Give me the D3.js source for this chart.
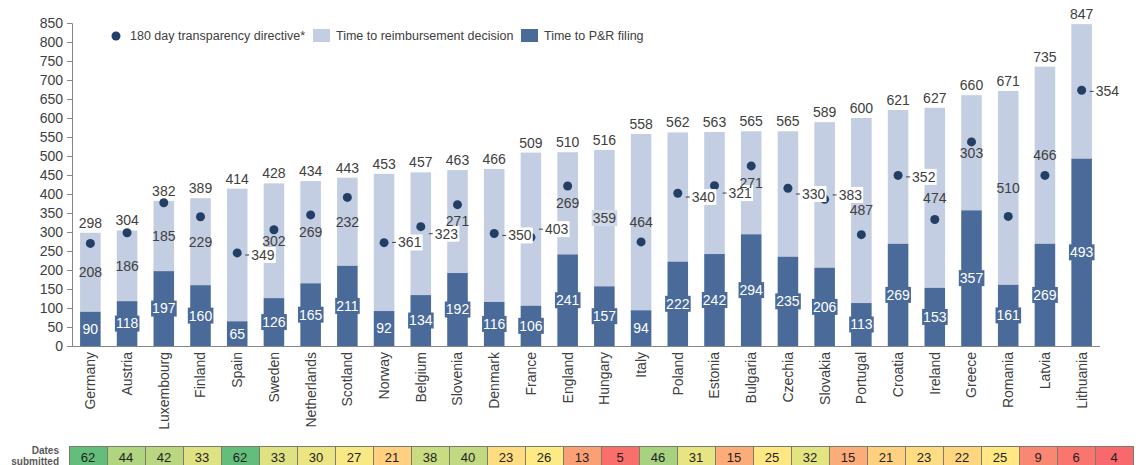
<!DOCTYPE html>
<html>
<head>
<meta charset="utf-8">
<script src="https://cdn.jsdelivr.net/npm/d3@7"></script>
<style>
  body { margin: 0; background: #fff; }
  svg { display: block; font-family: "Liberation Sans", Arial, sans-serif; }
</style>
</head>
<body>
<svg id="chart" width="1139" height="465"></svg>
<script>
// chart data
const countries = ["Germany", "Austria", "Luxembourg", "Finland", "Spain", "Sweden", "Netherlands",
  "Scotland", "Norway", "Belgium", "Slovenia", "Denmark", "France", "England", "Hungary", "Italy",
  "Poland", "Estonia", "Bulgaria", "Czechia", "Slovakia", "Portugal", "Croatia", "Ireland", "Greece",
  "Romania", "Latvia", "Lithuania"];
const pnrFiling = [90, 118, 197, 160, 65, 126, 165, 211, 92, 134, 192, 116, 106, 241, 157, 94,
  222, 242, 294, 235, 206, 113, 269, 153, 357, 161, 269, 493];
const reimbursement = [208, 186, 185, 229, 349, 302, 269, 232, 361, 323, 271, 350, 403, 269, 359, 464,
  340, 321, 271, 330, 383, 487, 352, 474, 303, 510, 466, 354];
const totals = [298, 304, 382, 389, 414, 428, 434, 443, 453, 457, 463, 466, 509, 510, 516, 558,
  562, 563, 565, 565, 589, 600, 621, 627, 660, 671, 735, 847];
const directive = [270, 298, 377, 340, 245, 306, 345, 391, 272, 314, 372, 296, 286, 421, 337, 274,
  402, 422, 474, 415, 386, 293, 449, 333, 537, 341, 449, 673];
const datesSubmitted = [62, 44, 42, 33, 62, 33, 30, 27, 21, 38, 40, 23, 26, 13, 5, 46,
  31, 15, 25, 32, 15, 21, 23, 22, 25, 9, 6, 4];
// labels shown beside the dot with a leader line
const leaderLabels = ["Spain", "Norway", "Belgium", "Denmark", "France", "Poland", "Estonia",
  "Czechia", "Slovakia", "Croatia", "Lithuania"];
const yTicks = d3.range(0, 851, 50);
const legendItems = ["180 day transparency directive*", "Time to reimbursement decision", "Time to P&R filing"];

const DARK = "#4a6a9a", LIGHT = "#c3cee2", DOT = "#243f66", TEXT = "#404040";

const svg = d3.select("#chart");

const x = d3.scaleBand().domain(countries).range([72, 1100]).paddingInner(0.44).paddingOuter(0.22);
const y = d3.scaleLinear().domain([0, 850]).range([346, 23]);

// y axis
const yAxis = svg.append("g")
  .attr("transform", "translate(72,0)")
  .call(d3.axisLeft(y).tickValues(yTicks).tickSize(5).tickPadding(4));
yAxis.select(".domain").attr("stroke", "#868686");
yAxis.selectAll(".tick line").attr("stroke", "#868686");
yAxis.selectAll(".tick text").attr("fill", TEXT).style("font-size", "14px");

// bars
const rows = countries.map((c, i) => ({
  c, f: pnrFiling[i], r: reimbursement[i], t: totals[i], d: directive[i], i
}));

const g = svg.append("g");
g.selectAll("rect.light").data(rows).enter().append("rect")
  .attr("x", d => x(d.c)).attr("width", x.bandwidth())
  .attr("y", d => y(d.f + d.r)).attr("height", d => y(d.f) - y(d.f + d.r))
  .attr("fill", LIGHT);
g.selectAll("rect.dark").data(rows).enter().append("rect")
  .attr("x", d => x(d.c)).attr("width", x.bandwidth())
  .attr("y", d => y(d.f)).attr("height", d => y(0) - y(d.f))
  .attr("fill", DARK);

// x axis
const xAxis = svg.append("g")
  .attr("transform", "translate(0,346)")
  .call(d3.axisBottom(x).tickSize(0).tickPadding(0));
xAxis.select(".domain").attr("stroke", "#868686").attr("d", "M72,0.5H1100");
xAxis.selectAll(".tick text")
  .attr("transform", "rotate(-90)")
  .attr("text-anchor", "end")
  .attr("x", -6).attr("y", 0).attr("dy", "0.35em")
  .attr("fill", TEXT).style("font-size", "14px");

// dots
g.selectAll("circle.dot").data(rows).enter().append("circle")
  .attr("cx", d => x(d.c) + x.bandwidth() / 2)
  .attr("cy", d => y(d.d)).attr("r", 4.5).attr("fill", DOT);

function boxedLabel(sel, cx, cy, text, anchor, fill, boxFill) {
  const grp = sel.append("g");
  const t = grp.append("text").attr("x", cx).attr("y", cy).attr("dy", "0.35em")
    .attr("text-anchor", anchor).attr("fill", fill).style("font-size", "14px").text(text);
  const bb = t.node().getBBox();
  if (boxFill) {
    grp.insert("rect", "text")
      .attr("x", bb.x - 1).attr("y", cy - 8).attr("width", bb.width + 2).attr("height", 16)
      .attr("fill", boxFill);
  }
}

// reimbursement labels
rows.forEach(d => {
  const cx = x(d.c) + x.bandwidth() / 2;
  const my = y(d.f + d.r / 2);
  if (leaderLabels.includes(d.c)) {
    g.append("line").attr("x1", cx + 8).attr("x2", cx + 12).attr("y1", my).attr("y2", my)
      .attr("stroke", TEXT).attr("stroke-width", 1);
    boxedLabel(g, cx + 14, my, d.r, "start", TEXT, "#fff");
  } else {
    boxedLabel(g, cx, my, d.r, "middle", TEXT, d.c === "Hungary" ? "#d2daea" : null);
  }
  // filing labels
  boxedLabel(g, cx, y(d.f / 2), d.f, "middle", "#fff", DARK);
  // totals
  g.append("text").attr("x", cx).attr("y", y(d.t) - 5)
    .attr("text-anchor", "middle").attr("fill", TEXT).style("font-size", "14px").text(d.t);
});

// legend
const lg = svg.append("g").style("font-size", "12.5px").attr("fill", TEXT);
lg.append("circle").attr("cx", 116).attr("cy", 36).attr("r", 4.5).attr("fill", DOT);
lg.append("text").attr("x", 130).attr("y", 36).attr("dy", "0.35em").text(legendItems[0]);
lg.append("rect").attr("x", 313).attr("y", 29).attr("width", 17).attr("height", 13).attr("fill", LIGHT);
lg.append("text").attr("x", 336).attr("y", 36).attr("dy", "0.35em").text(legendItems[1]);
lg.append("rect").attr("x", 521).attr("y", 29).attr("width", 17).attr("height", 13).attr("fill", DARK);
lg.append("text").attr("x", 544).attr("y", 36).attr("dy", "0.35em").text(legendItems[2]);

// dates submitted table
const sorted = datesSubmitted.slice().sort((a, b) => a - b);
const color = d3.scaleLinear()
  .domain([d3.min(datesSubmitted), d3.median(sorted), d3.max(datesSubmitted)])
  .range(["#f8696b", "#ffeb84", "#63be7b"]);
const cellX = d3.scaleBand().domain(countries).range([69, 1133]);
const tg = svg.append("g");
tg.selectAll("rect").data(rows).enter().append("rect")
  .attr("x", d => cellX(d.c) + 0.5).attr("y", 446.5)
  .attr("width", cellX.bandwidth()).attr("height", 24)
  .attr("fill", d => color(datesSubmitted[d.i]))
  .attr("stroke", "#7c7c6c").attr("stroke-width", 1);
tg.selectAll("text").data(rows).enter().append("text")
  .attr("x", d => cellX(d.c) + cellX.bandwidth() / 2).attr("y", 457).attr("dy", "0.35em")
  .attr("text-anchor", "middle").attr("fill", "#222").style("font-size", "13px")
  .text(d => datesSubmitted[d.i]);
tg.append("text").attr("x", 59).attr("y", 450).attr("dy", "0.35em").attr("text-anchor", "end")
  .attr("fill", "#595959").style("font-size", "10px").style("font-weight", "bold").text("Dates");
tg.append("text").attr("x", 59).attr("y", 461.5).attr("dy", "0.35em").attr("text-anchor", "end")
  .attr("fill", "#595959").style("font-size", "10px").style("font-weight", "bold").text("submitted");
</script>
</body>
</html>
